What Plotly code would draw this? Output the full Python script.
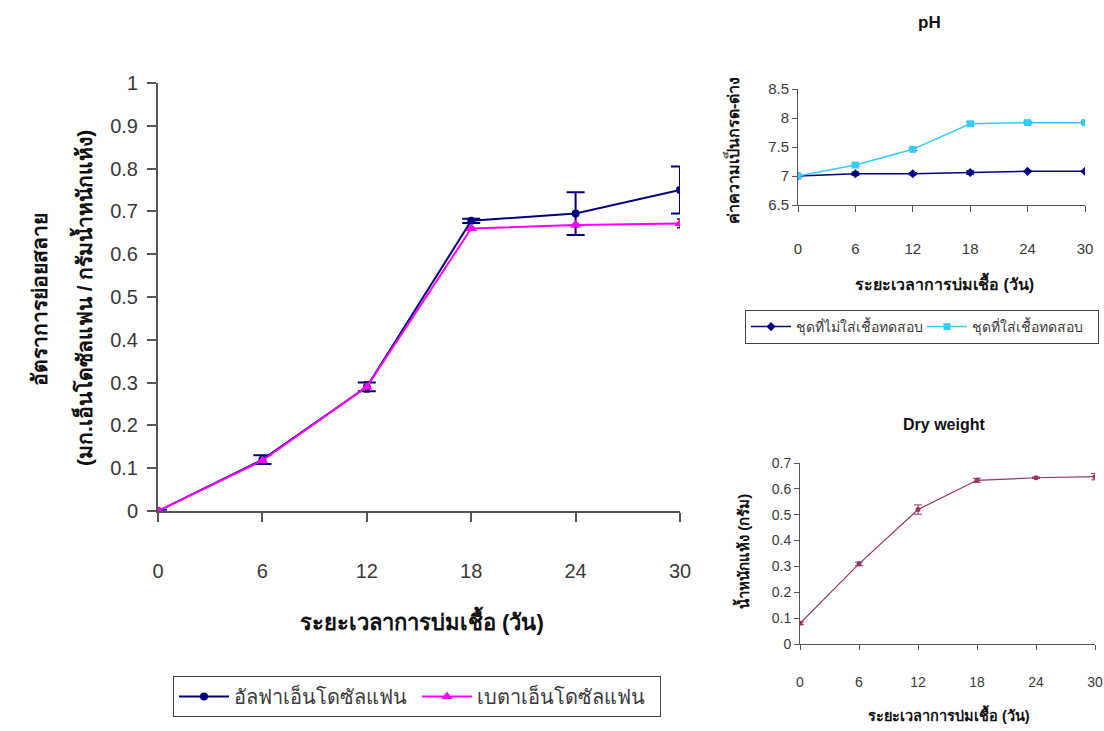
import plotly.graph_objects as go

# Incubation time (days)
days = [0, 6, 12, 18, 24, 30]
day_ticks = ["0", "6", "12", "18", "24", "30"]

# Endosulfan degradation rate (mg endosulfan / g dry weight)
alpha_rate = [0.0, 0.12, 0.29, 0.678, 0.695, 0.75]
alpha_err = [0.003, 0.01, 0.01, 0.005, 0.05, 0.055]
beta_rate = [0.0, 0.118, 0.29, 0.66, 0.668, 0.672]
beta_err = [0.003, 0.005, 0.012, 0.004, 0.004, 0.01]

# pH
ph_control = [7.0, 7.04, 7.04, 7.06, 7.08, 7.08]
ph_control_err = [0.01, 0.03, 0.02, 0.03, 0.01, 0.01]
ph_inoculated = [7.0, 7.19, 7.46, 7.90, 7.92, 7.92]
ph_inoculated_err = [0.01, 0.02, 0.02, 0.03, 0.02, 0.02]

# Dry weight (g)
dry_weight = [0.08, 0.31, 0.52, 0.633, 0.643, 0.647]
dry_weight_err = [0.005, 0.007, 0.018, 0.008, 0.003, 0.012]

W, H = 1104, 731
TXT = "#3a3a3a"
AX = "#555555"
TITLE = "#111111"
FONT = "Arial, Liberation Sans, sans-serif"


def px(x):
    return x / W


def py(y):
    return (H - y) / H


fig = go.Figure()

# Main degradation chart
fig.add_trace(go.Scatter(
    x=days, y=alpha_rate, name="อัลฟาเอ็นโดซัลแฟน", mode="lines+markers",
    line=dict(color="#000080", width=2), marker=dict(symbol="circle", size=8, color="#000080"),
    error_y=dict(type="data", array=alpha_err, color="#000080", thickness=2, width=9),
    xaxis="x", yaxis="y", legend="legend"))
fig.add_trace(go.Scatter(
    x=days, y=beta_rate, name="เบตาเอ็นโดซัลแฟน", mode="lines+markers",
    line=dict(color="#FF00FF", width=2), marker=dict(symbol="triangle-up", size=10, color="#FF00FF"),
    error_y=dict(type="data", array=beta_err, color="#222222", thickness=1.5, width=3),
    xaxis="x", yaxis="y", legend="legend"))

# pH chart
fig.add_trace(go.Scatter(
    x=days, y=ph_control, name="ชุดที่ไม่ใส่เชื้อทดสอบ", mode="lines+markers",
    line=dict(color="#000080", width=1.5), marker=dict(symbol="diamond", size=7, color="#000080"),
    error_y=dict(type="data", array=ph_control_err, color="#000080", thickness=1, width=4),
    xaxis="x2", yaxis="y2", legend="legend2"))
fig.add_trace(go.Scatter(
    x=days, y=ph_inoculated, name="ชุดที่ใส่เชื้อทดสอบ", mode="lines+markers",
    line=dict(color="#33CCFF", width=1.5), marker=dict(symbol="square", size=7, color="#33CCFF"),
    error_y=dict(type="data", array=ph_inoculated_err, color="#000080", thickness=1, width=4),
    xaxis="x2", yaxis="y2", legend="legend2"))

# Dry weight chart
fig.add_trace(go.Scatter(
    x=days, y=dry_weight, name="Dry weight", mode="lines+markers", showlegend=False,
    line=dict(color="#993366", width=1.2), marker=dict(symbol="circle", size=5, color="#993366"),
    error_y=dict(type="data", array=dry_weight_err, color="#993366", thickness=1, width=4),
    xaxis="x3", yaxis="y3"))

common_x = dict(tickmode="array", tickvals=days, ticktext=day_ticks, showgrid=False,
                zeroline=False, showline=True, linecolor=AX, ticks="outside",
                tickcolor=AX, fixedrange=True)
common_y = dict(showgrid=False, zeroline=False, showline=True, linecolor=AX,
                ticks="outside", tickcolor=AX, fixedrange=True)

fig.update_layout(
    width=W, height=H, margin=dict(l=0, r=0, t=0, b=0, autoexpand=False),
    paper_bgcolor="white", plot_bgcolor="white",
    font=dict(family=FONT, color=TXT),
    xaxis=dict(common_x, domain=[px(158), px(680)], range=[0, 30], anchor="y",
               ticklen=9, linewidth=2, tickwidth=1.5,
               tickfont=dict(size=20, color=TXT), ticklabelstandoff=32),
    yaxis=dict(common_y, domain=[py(511), py(83)], range=[0, 1], anchor="x",
               dtick=0.1, ticklen=9, linewidth=2, tickwidth=1.5,
               tickfont=dict(size=20, color=TXT), ticklabelstandoff=5),
    xaxis2=dict(common_x, domain=[px(798), px(1085)], range=[0, 30], anchor="y2",
                ticklen=6, linewidth=1, tickfont=dict(size=15, color=TXT),
                ticklabelstandoff=24),
    yaxis2=dict(common_y, domain=[py(205), py(89)], range=[6.5, 8.5], anchor="x2",
                dtick=0.5, ticklen=5, linewidth=1,
                tickfont=dict(size=15, color=TXT)),
    xaxis3=dict(common_x, domain=[px(800), px(1095)], range=[0, 30], anchor="y3",
                ticklen=5, linewidth=1, tickfont=dict(size=14, color=TXT),
                ticklabelstandoff=20),
    yaxis3=dict(common_y, domain=[py(644), py(463)], range=[0, 0.7], anchor="x3",
                dtick=0.1, ticklen=5, linewidth=1,
                tickfont=dict(size=14, color=TXT)),
    legend=dict(orientation="h", x=px(173), y=py(676), xanchor="left", yanchor="top",
                bordercolor="#444444", borderwidth=1, bgcolor="white",
                font=dict(size=20, color=TXT), itemwidth=50, entrywidth=178),
    legend2=dict(orientation="h", x=px(745), y=py(310), xanchor="left", yanchor="top",
                 bordercolor="#444444", borderwidth=1, bgcolor="white",
                 font=dict(size=14, color=TXT), itemwidth=40, entrywidth=121),
)

annotations = [
    dict(text="<b>ระยะเวลาการบ่มเชื้อ (วัน)</b>", x=px(422), y=py(620), font=dict(size=22, color=TITLE)),
    dict(text="<b>อัตราการย่อยสลาย</b>", x=px(39), y=py(300), textangle=-90, font=dict(size=21, color=TITLE)),
    dict(text="<b>(มก.เอ็นโดซัลแฟน / กรัมน้ำหนักแห้ง)</b>", x=px(82), y=py(298), textangle=-90,
         font=dict(size=21, color=TITLE)),
    dict(text="<b>pH</b>", x=px(929), y=py(22), font=dict(size=17, color=TITLE)),
    dict(text="<b>ระยะเวลาการบ่มเชื้อ (วัน)</b>", x=px(944), y=py(282), font=dict(size=16, color=TITLE)),
    dict(text="<b>ค่าความเป็นกรด-ด่าง</b>", x=px(732), y=py(150), textangle=-90, font=dict(size=16, color=TITLE)),
    dict(text="<b>Dry weight</b>", x=px(944), y=py(424), font=dict(size=16, color=TITLE)),
    dict(text="<b>ระยะเวลาการบ่มเชื้อ (วัน)</b>", x=px(949), y=py(714), font=dict(size=14.5, color=TITLE)),
    dict(text="<b>น้ำหนักแห้ง (กรัม)</b>", x=px(742), y=py(552), textangle=-90, font=dict(size=15, color=TITLE)),
]
for a in annotations:
    a.update(xref="paper", yref="paper", showarrow=False, xanchor="center", yanchor="middle")
fig.update_layout(annotations=annotations)

fig.write_html("out.html")
